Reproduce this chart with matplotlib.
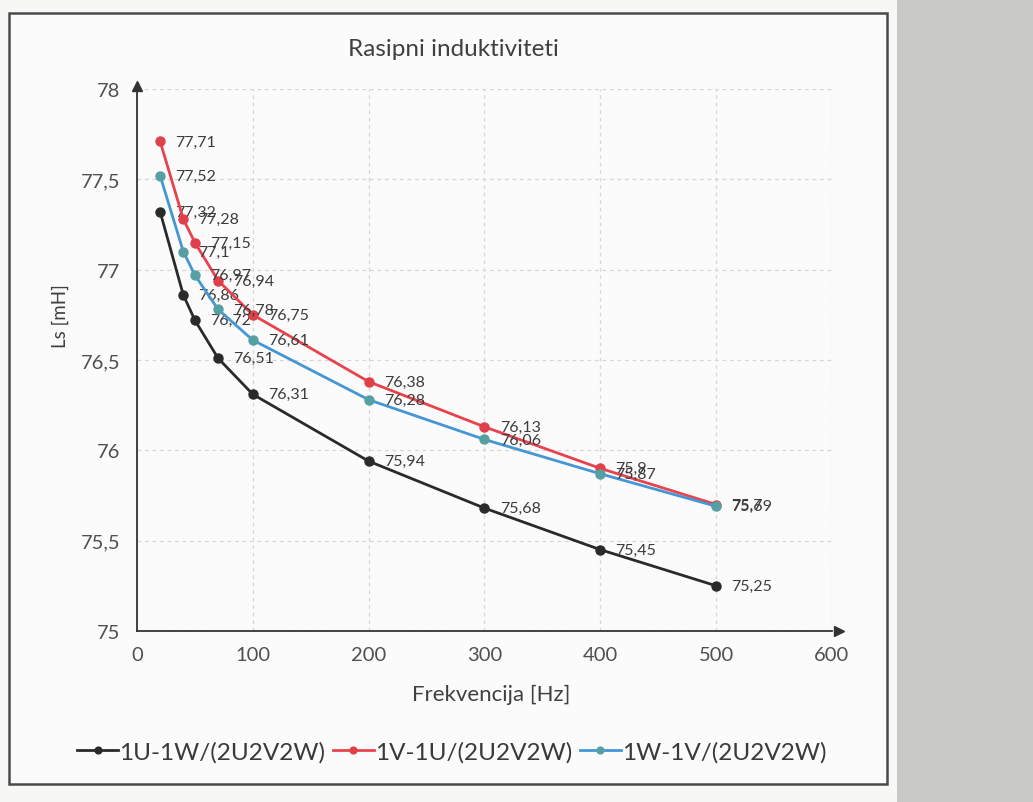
import matplotlib.pyplot as plt
from matplotlib.patches import Rectangle

# Frequencies and measured leakage inductances
freq = [20, 40, 50, 70, 100, 200, 300, 400, 500]
ls_1u1w = [77.32, 76.86, 76.72, 76.51, 76.31, 75.94, 75.68, 75.45, 75.25]
ls_1v1u = [77.71, 77.28, 77.15, 76.94, 76.75, 76.38, 76.13, 75.9, 75.7]
ls_1w1v = [77.52, 77.1, 76.97, 76.78, 76.61, 76.28, 76.06, 75.87, 75.69]

series_names = ['1U-1W/(2U2V2W)', '1V-1U/(2U2V2W)', '1W-1V/(2U2V2W)']
x_ticks = [0, 100, 200, 300, 400, 500, 600]
y_ticks = [75, 75.5, 76, 76.5, 77, 77.5, 78]

plt.rcParams['font.family'] = ['Lato', 'DejaVu Sans']

fig = plt.figure(figsize=(10.33, 8.03), dpi=100)
fig.patch.set_facecolor('#f7f7f5')

# scanned page look: gray strip on the right and the chart frame
fig.patches.append(Rectangle((0.868, 0), 0.132, 1, transform=fig.transFigure,
                             facecolor='#c9c9c7', edgecolor='none', zorder=-2))
fig.patches.append(Rectangle((0.009, 0.022), 0.850, 0.960, transform=fig.transFigure,
                             facecolor='#fbfbfb', edgecolor='#4a4a4a', linewidth=1.8, zorder=-1))

ax = fig.add_axes([0.1326, 0.2130, 0.6728, 0.6749])
ax.set_facecolor('none')

styles = [
    (ls_1u1w, '#2a2a2a', '#2a2a2a'),
    (ls_1v1u, '#e8434d', '#e0404a'),
    (ls_1w1v, '#4596d4', '#56a0a4'),
]
for (vals, lc, mc), name in zip(styles, series_names):
    ax.plot(freq, vals, color=lc, linewidth=2, marker='o', markersize=6.5,
            markerfacecolor=mc, markeredgecolor=mc, label=name, zorder=3)
    for x, y in zip(freq, vals):
        txt = ('%g' % y).replace('.', ',')
        ax.annotate(txt, (x, y), xytext=(11, 0), textcoords='offset points',
                    va='center', ha='left', fontsize=11.5, color='#3c3c3c')

ax.set_xlim(0, 600)
ax.set_ylim(75, 78)
ax.set_xticks(x_ticks)
ax.set_yticks(y_ticks)
ax.set_yticklabels([('%g' % v).replace('.', ',') for v in y_ticks])
ax.tick_params(length=0, labelsize=14.5, colors='#505050')
ax.tick_params(axis='y', pad=12)
ax.tick_params(axis='x', pad=11)

ax.grid(True, linestyle=(0, (3, 3)), color='#d6d6d6', linewidth=0.9)
ax.set_axisbelow(True)
for s in ['top', 'right']:
    ax.spines[s].set_visible(False)
for s in ['left', 'bottom']:
    ax.spines[s].set_color('#333333')
    ax.spines[s].set_linewidth(1.3)

# axis arrows
ax.plot(1.01, 0, '>', color='#333333', markersize=7, transform=ax.transAxes, clip_on=False)
ax.plot(0, 1.005, '^', color='#333333', markersize=7, transform=ax.transAxes, clip_on=False)

fig.text(453 / 1033, 1 - 50 / 803, 'Rasipni induktiviteti', fontsize=17.5,
         color='#404040', ha='center', va='center')

ax.set_xlabel('Frekvencija [Hz]', fontsize=16, color='#404040')
ax.xaxis.set_label_coords(0.509, -0.116)
ax.xaxis.label.set_va('center')
ax.set_ylabel('Ls [mH]', fontsize=13.5, color='#404040')
ax.yaxis.set_label_coords(-0.111, 0.583)
ax.yaxis.label.set_va('center')

ax.legend(loc='center', bbox_to_anchor=(0.453, -0.223), ncol=3, frameon=False,
          fontsize=17.5, handlelength=1.7, handletextpad=0.05, columnspacing=0.3,
          markerscale=0.75, labelcolor='#3a3a3a')

fig.savefig('out.png', dpi=100, facecolor=fig.get_facecolor())
